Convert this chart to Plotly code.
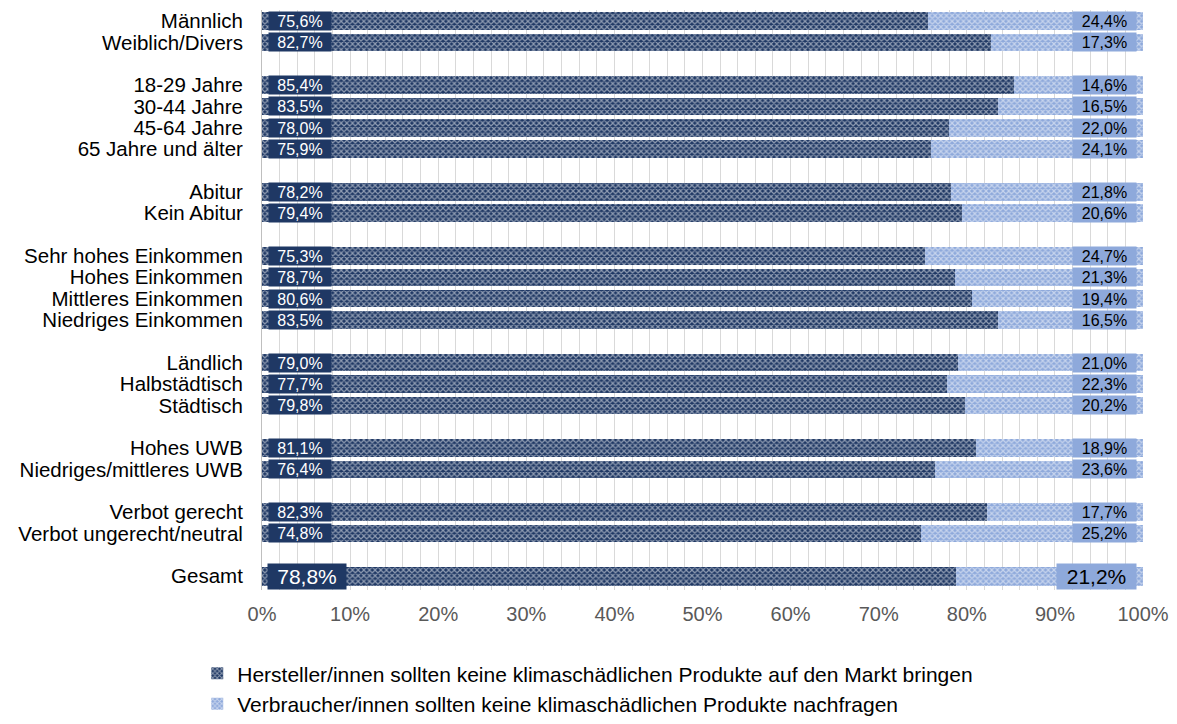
import plotly.graph_objects as go

groups = [
    ["Männlich", "Weiblich/Divers"],
    ["18-29 Jahre", "30-44 Jahre", "45-64 Jahre", "65 Jahre und älter"],
    ["Abitur", "Kein Abitur"],
    ["Sehr hohes Einkommen", "Hohes Einkommen", "Mittleres Einkommen", "Niedriges Einkommen"],
    ["Ländlich", "Halbstädtisch", "Städtisch"],
    ["Hohes UWB", "Niedriges/mittleres UWB"],
    ["Verbot gerecht", "Verbot ungerecht/neutral"],
    ["Gesamt"],
]
hersteller = [75.6, 82.7, 85.4, 83.5, 78.0, 75.9, 78.2, 79.4, 75.3, 78.7,
              80.6, 83.5, 79.0, 77.7, 79.8, 81.1, 76.4, 82.3, 74.8, 78.8]
verbraucher = [24.4, 17.3, 14.6, 16.5, 22.0, 24.1, 21.8, 20.6, 24.7, 21.3,
               19.4, 16.5, 21.0, 22.3, 20.2, 18.9, 23.6, 17.7, 25.2, 21.2]

names = ["Hersteller/innen sollten keine klimaschädlichen Produkte auf den Markt bringen",
         "Verbraucher/innen sollten keine klimaschädlichen Produkte nachfragen"]
dark = "#1F3864"
light = "#8EA9DB"
FONT = "Liberation Sans"

# one slot per category, an empty slot between groups
labels, ypos = [], []
pos = 0
for g in groups:
    for c in g:
        labels.append(c)
        ypos.append(pos)
        pos += 1
    pos += 1

widths = [0.82] * (len(labels) - 1) + [0.9]

def fmt(v):
    return f"{v:.1f}%".replace(".", ",")

fig = go.Figure()
fig.add_trace(go.Bar(
    y=ypos, x=hersteller, orientation="h", name=names[0], width=widths,
    marker=dict(color=dark, line=dict(width=0),
                pattern=dict(shape="x", fgcolor="white", size=4, solidity=0.5)),
    legendgroup="a", hoverinfo="skip"))
fig.add_trace(go.Bar(
    y=ypos, x=verbraucher, orientation="h", name=names[1], width=widths,
    marker=dict(color=light, line=dict(width=0),
                pattern=dict(shape="x", fgcolor="white", size=4, solidity=0.5)),
    legendgroup="b", hoverinfo="skip"))

for i, (y, a, b) in enumerate(zip(ypos, hersteller, verbraucher)):
    big = labels[i] == "Gesamt"
    fs = 21 if big else 16
    fig.add_annotation(x=5.1 if big else 4.26, y=y, text=fmt(a), showarrow=False,
                       font=dict(size=fs, color="white", family=FONT),
                       bgcolor=dark, borderpad=2 if big else 1,
                       width=74 if big else 60, height=21 if big else 16)
    fig.add_annotation(x=94.7 if big else 95.6, y=y, text=fmt(b), showarrow=False,
                       font=dict(size=fs, color="black", family=FONT),
                       bgcolor=light, borderpad=2 if big else 1,
                       width=75 if big else 61, height=21 if big else 16)

# page body adds an 8px offset, so the figure is 8px smaller
fig.update_layout(
    barmode="stack",
    width=1169, height=716,
    margin=dict(l=254, r=34, t=2, b=134, autoexpand=False),
    plot_bgcolor="white", paper_bgcolor="white",
    font=dict(family=FONT, color="black"),
    xaxis=dict(range=[0, 100], dtick=10, ticksuffix="%", showgrid=True,
               gridcolor="#D9D9D9", gridwidth=1, zeroline=False, automargin=False,
               minor=dict(dtick=2, showgrid=True, gridcolor="#D9D9D9", gridwidth=1),
               tickfont=dict(size=20, color="#595959"), ticklabelstandoff=10),
    yaxis=dict(range=[26.65, -0.52], tickvals=ypos, ticktext=labels, automargin=False,
               showgrid=False, zeroline=False, showline=True, linecolor="#BFBFBF",
               tickfont=dict(size=20.5, color="black"), ticklabelstandoff=14),
    legend=dict(orientation="v", x=-0.0735, xanchor="left", y=-0.109, yanchor="top",
                itemwidth=30, font=dict(size=21, color="black"), tracegroupgap=0),
    showlegend=True,
)

fig.write_html("out.html")
